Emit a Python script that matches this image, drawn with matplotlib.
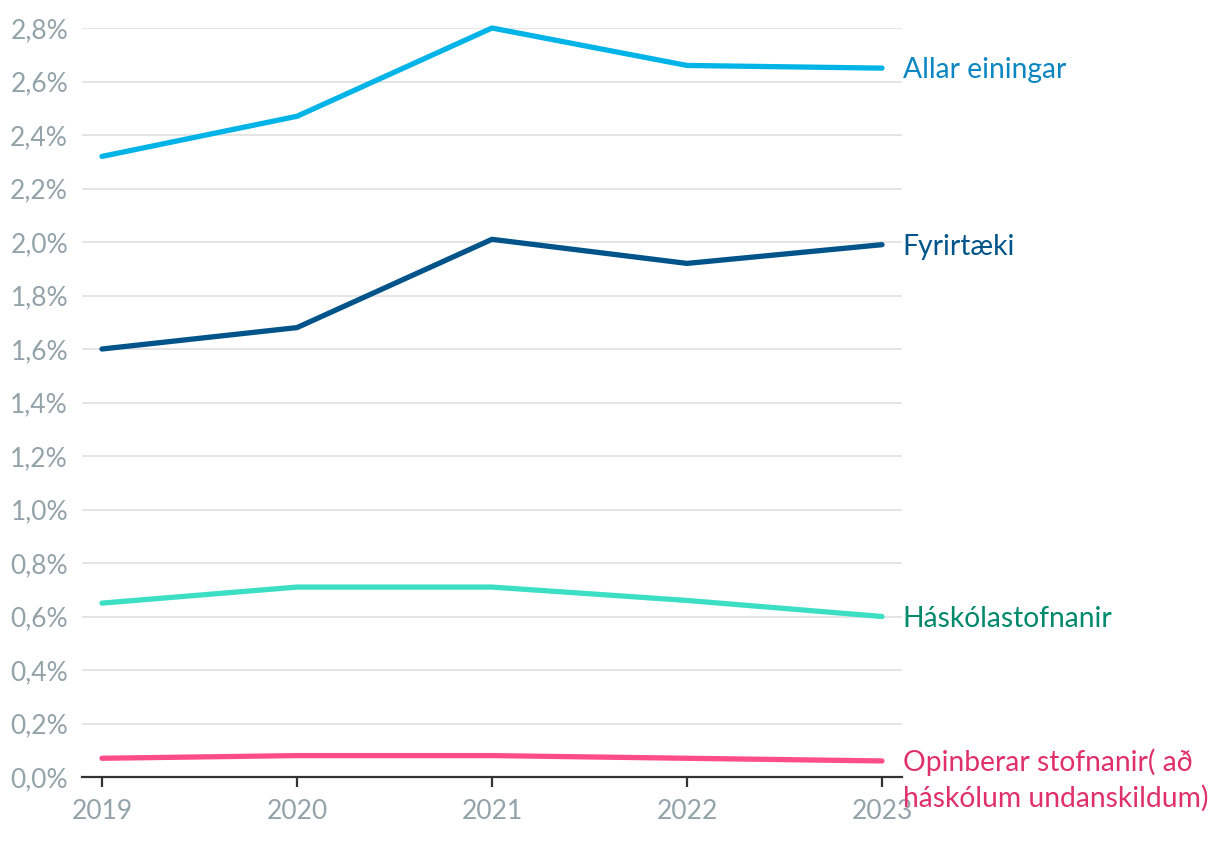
import matplotlib
matplotlib.use("Agg")
import matplotlib.pyplot as plt
from matplotlib.ticker import FuncFormatter

years = [2019, 2020, 2021, 2022, 2023]
allar = [2.32, 2.47, 2.80, 2.66, 2.65]
fyrirtaeki = [1.60, 1.68, 2.01, 1.92, 1.99]
haskolar = [0.65, 0.71, 0.71, 0.66, 0.60]
opinber = [0.07, 0.08, 0.08, 0.07, 0.06]

series_names = ["Allar einingar", "Fyrirtæki", "Háskólastofnanir",
                "Opinberar stofnanir( að\nháskólum undanskildum)"]
series_values = [allar, fyrirtaeki, haskolar, opinber]
line_colors = ["#00b4e8", "#00548a", "#3ddfc4", "#ff4d89"]
label_colors = ["#0a86c2", "#00548a", "#00896c", "#e0306c"]
label_offsets = [-1.5, -1.5, -1.5, -13.6]

plt.rcParams['font.family'] = ['Lato', 'DejaVu Sans']

fig = plt.figure(figsize=(12.2, 8.44), dpi=100)
ax = fig.add_axes([82/1220, 67/844, 820/1220, 749/844])

for vals, lc, tc, name, off in zip(series_values, line_colors, label_colors, series_names, label_offsets):
    ax.plot(years, vals, color=lc, lw=3.8, solid_capstyle='round', zorder=3, clip_on=False)
    ax.annotate(name, xy=(years[-1], vals[-1]), xytext=(15, off), textcoords='offset points',
                color=tc, fontsize=20.3, va='center', ha='left', annotation_clip=False,
                linespacing=1.42)

ax.set_xlim(2019 - 20/195, 2023 + 20/195)
ax.set_ylim(0, 2.8)
yt = [i * 0.2 for i in range(15)]
ax.set_yticks(yt)
ax.yaxis.set_major_formatter(FuncFormatter(lambda v, p: f"{v:.1f}%".replace('.', ',')))
ax.set_xticks(years)
ax.set_xticklabels([str(y) for y in years])

ax.grid(axis='y', color='#e3e3e3', lw=1.3, zorder=0)
ax.set_axisbelow(True)
for s in ['top', 'right', 'left']:
    ax.spines[s].set_visible(False)
ax.spines['bottom'].set_color('#333333')
ax.spines['bottom'].set_linewidth(1.6)
ax.spines['bottom'].set_zorder(2)
ax.tick_params(axis='y', length=0, pad=10, labelsize=19, labelcolor='#93a3aa')
ax.tick_params(axis='x', length=7, width=1.6, color='#333333', pad=9, labelsize=19, labelcolor='#93a3aa')

fig.savefig("out.png", dpi=100)
